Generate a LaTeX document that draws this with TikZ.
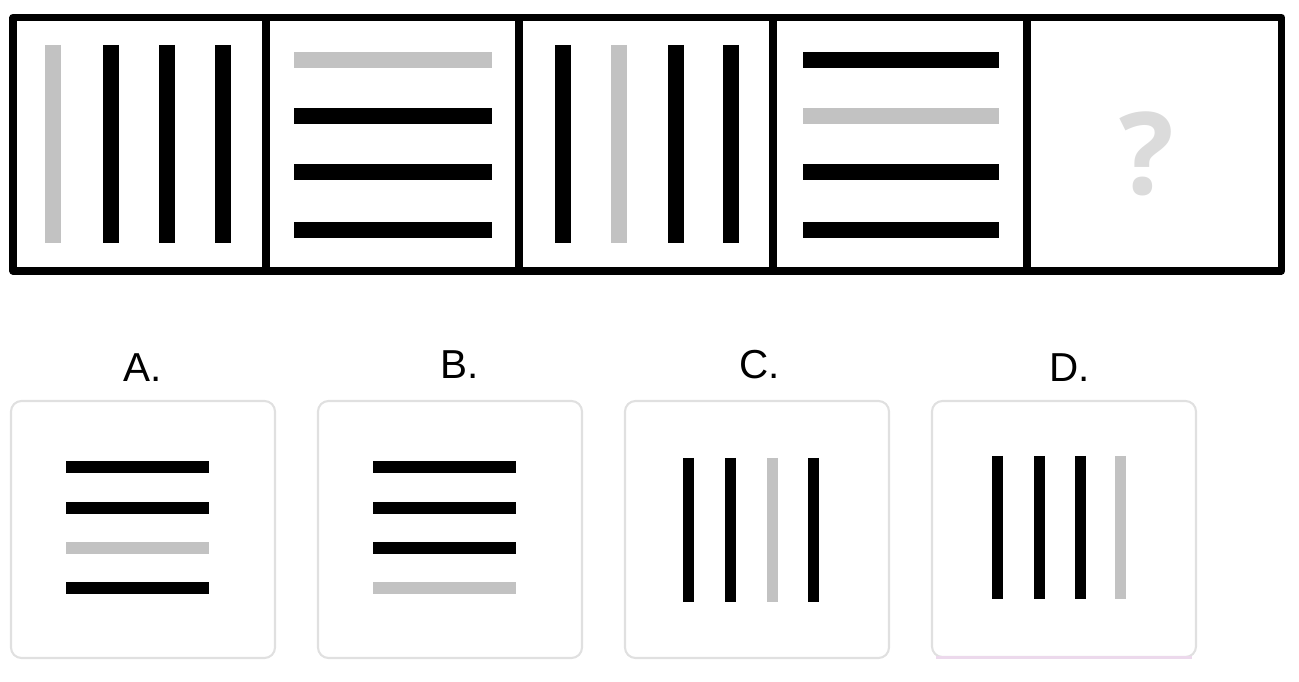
\documentclass[tikz,border=0pt]{standalone}
\usepackage{fontspec}
\setmainfont{Liberation Sans}
\newfontfamily\qfont{Open Sans}
\usetikzlibrary{positioning}

\begin{document}
\begin{tikzpicture}[x=0.01cm, y=-0.01cm]
\tikzstyle{frame}=[line width=2pt, line join=round]
\tikzstyle{bar}=[line width=0.15cm, black]
\tikzstyle{pale}=[line width=0.15cm, black!24]
\tikzstyle{sbar}=[line width=0.11cm, black]
\tikzstyle{spale}=[line width=0.11cm, black!24]
\tikzstyle{card}=[draw=black!12, line width=0.6pt, rounded corners=3pt]
\tikzstyle{lbl}=[font=\fontsize{11.5}{13}\selectfont, inner sep=0pt]
\useasboundingbox (0,0) rectangle (1299,682);
% question row
\draw[frame] (13,17.5) rectangle (1281.5,271);
\draw[frame] (266,17.5) -- (266,271);
\draw[frame] (519,17.5) -- (519,271);
\draw[frame] (773,17.5) -- (773,271);
\draw[frame] (1027,17.5) -- (1027,271);
% panel 1
\draw[pale] (53,45) -- (53,243);
\draw[bar] (111,45) -- (111,243);
\draw[bar] (167,45) -- (167,243);
\draw[bar] (223,45) -- (223,243);
% panel 2
\draw[pale] (294,60) -- (492,60);
\draw[bar] (294,116) -- (492,116);
\draw[bar] (294,172) -- (492,172);
\draw[bar] (294,230) -- (492,230);
% panel 3
\draw[bar] (563,45) -- (563,243);
\draw[pale] (619,45) -- (619,243);
\draw[bar] (676,45) -- (676,243);
\draw[bar] (731,45) -- (731,243);
% panel 4
\draw[bar] (803,60) -- (999,60);
\draw[pale] (803,116) -- (999,116);
\draw[bar] (803,172) -- (999,172);
\draw[bar] (803,230) -- (999,230);
% panel 5
\node[text=black!14, font=\qfont\fontsize{32.5}{33}\selectfont\bfseries] (q) at (1147,154) {?};
% answer cards
\node[lbl] (la) at (143,368) {A.};
\node[lbl] (lb) at (460,365) {B.};
\node[lbl] (lc) at (760,365) {C.};
\node[lbl] (ld) at (1070,368) {D.};
\draw[card] (11,401) rectangle (275,658);
\draw[card] (318,401) rectangle (582,658);
\draw[card] (625,401) rectangle (889,658);
\draw[card] (932,401) rectangle (1196,657);
\draw[violet!15, line width=0.6pt] (936,657.5) -- (1192,657.5);
% option A
\draw[sbar] (66,467) -- (209,467);
\draw[sbar] (66,508) -- (209,508);
\draw[spale] (66,548) -- (209,548);
\draw[sbar] (66,588) -- (209,588);
% option B
\draw[sbar] (373,467) -- (516,467);
\draw[sbar] (373,508) -- (516,508);
\draw[sbar] (373,548) -- (516,548);
\draw[spale] (373,588) -- (516,588);
% option C
\draw[sbar] (688,458) -- (688,602);
\draw[sbar] (730,458) -- (730,602);
\draw[spale] (772,458) -- (772,602);
\draw[sbar] (813,458) -- (813,602);
% option D
\draw[sbar] (997,456) -- (997,599);
\draw[sbar] (1039,456) -- (1039,599);
\draw[sbar] (1080,456) -- (1080,599);
\draw[spale] (1120,456) -- (1120,599);
\end{tikzpicture}
\end{document}
